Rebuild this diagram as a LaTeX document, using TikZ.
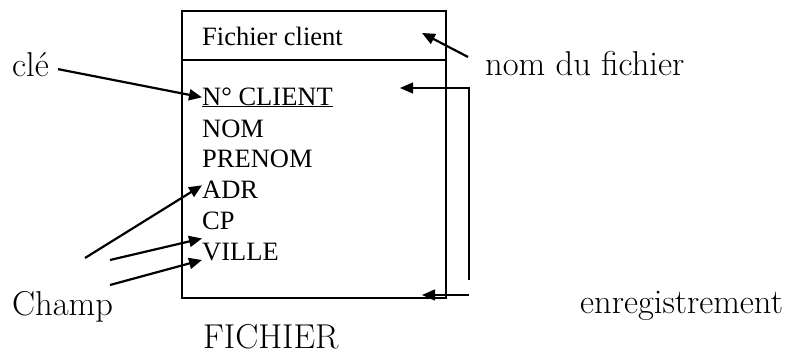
\documentclass[tikz,border=0pt]{standalone}
\usepackage{fontspec}
\newfontfamily\tnr{Liberation Serif}
\usetikzlibrary{arrows.meta}
\begin{document}
\begin{tikzpicture}[x=1pt,y=-1pt,
  champ/.style={anchor=base west,inner sep=0pt,font=\tnr\fontsize{26.5}{30}\selectfont},
  etiq/.style={anchor=base west,inner sep=0pt,font=\fontsize{34.5}{40}\selectfont},
  fleche/.style={-{Triangle[length=13pt,width=11pt]},line width=2.2pt},
  retour/.style={-{Triangle[length=13pt,width=11pt]},line width=1.4pt}]
  \useasboundingbox (0,0) rectangle (795,356);
  \node[draw,line width=1.6pt,anchor=north west,inner sep=0pt,minimum width=264pt,minimum height=287pt] (boite) at (181,10) {}; %fichier
  \draw[line width=1.6pt] (boite.west |- 0,60)--(boite.east |- 0,60); %en-tete
  \node[champ] (titre) at (202,45) {Fichier client};
  \node[champ] (num) at (202,105) {\underline{N° CLIENT}};
  \node[champ] (nom) at (202,137) {NOM};
  \node[champ] (prenom) at (202,167) {PRENOM};
  \node[champ] (adr) at (202,198) {ADR};
  \node[champ] (cp) at (202,229) {CP};
  \node[champ] (ville) at (202,260) {VILLE};
  \node[etiq] (cle) at (12,76) {clé};
  \node[etiq] (nomfich) at (485,75) {nom du fichier};
  \node[etiq] (champs) at (12,315) {Champ};
  \node[etiq] (enreg) at (580,313) {enregistrement};
  \node[etiq] (legende) at (203,348) {FICHIER};
  \draw[fleche] ([xshift=9pt,yshift=-5pt]cle.east)--(num.west); %cle
  \coordinate (n1) at (468,57);
  \coordinate (n2) at (422,33);
  \draw[fleche] (n1)--(n2); %nom du fichier
  \coordinate (c1) at (85,258);
  \coordinate (c2) at (110,260);
  \coordinate (c3) at (110,285);
  \draw[fleche] (c1)--([yshift=-5pt]adr.north west);
  \draw[fleche] (c2)--([yshift=4pt]ville.north west);
  \draw[fleche] (c3)--(ville.base west);
  \coordinate (e1) at (469,280);
  \coordinate (e2) at (400,88);
  \coordinate (e3) at (469,295);
  \coordinate (e4) at (422,295);
  \draw[retour] (e1)|-(e2); %enregistrement
  \draw[retour] (e3)--(e4);
\end{tikzpicture}
\end{document}
